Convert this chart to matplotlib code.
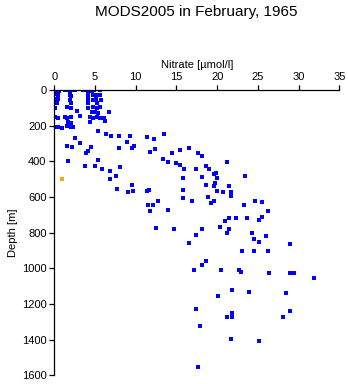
import matplotlib.pyplot as plt

# nitrate profiles, February 1965
nitrate = [
    0.1, 0.3, 0.6, 1.3, 1.6, 1.9, 2.2, 2.6, 3.5, 3.8, 4.2, 4.6, 4.9, 5.6,
    0.1, 0.4, 1.9, 2.1, 4.1, 4.8, 5.2, 5.6,
    0.2, 0.4, 1.9, 4.1, 4.8, 5.1, 5.7,
    0.1, 0.3, 2.0, 4.2, 5.2,
    0.1, 1.5, 2.1, 2.8, 4.1, 4.8, 5.3, 5.6, 6.7,
    3.2, 0.1, 0.4, 1.3, 1.6, 2.1, 4.4, 4.8, 5.2, 5.6, 6.1, 4.6, 5.0, 5.4,
    1.7, 2.1, 4.4, 6.2,
    0.1, 0.5, 0.9, 1.5, 2.0, 2.3, 5.4,
    6.3, 7.0, 8.0, 9.3, 11.4, 12.2, 13.5, 2.5, 3.2, 8.9,
    1.5, 2.2, 3.2, 4.2, 3.9, 4.5, 7.9, 9.5, 9.8, 11.8, 12.4,
    1.7, 3.8, 5.0, 5.4, 5.8, 6.8, 8.1, 7.6, 6.8,
    7.7, 9.1, 9.6, 9.7, 11.4, 11.6, 11.5, 12.1, 11.8, 12.7, 12.5,
    14.5, 15.4, 16.6, 17.6, 18.1, 13.3, 14.0, 14.9, 15.4, 15.9, 17.4, 18.6,
    19.0, 21.2, 18.1, 19.6, 19.8, 20.0, 15.8,
    15.8, 18.6, 19.6, 19.7, 20.0, 20.7, 21.4, 21.7, 21.7, 23.4,
    15.8, 16.9, 18.9, 19.2, 19.6, 23.3, 24.7, 14.0,
    21.0, 21.5, 22.3, 23.7, 20.4, 14.7, 18.1, 21.5, 25.2,
    25.5, 26.3, 25.5, 24.3, 26.0, 24.5, 25.1, 29.0, 23.1, 24.5, 26.3,
    17.4, 21.2, 16.6, 18.6, 18.1, 17.1, 20.5, 22.7, 22.9, 21.8, 23.9, 20.1,
    17.4, 21.8, 21.2, 21.8,
    26.4, 28.9, 29.4, 31.9, 28.5, 29.0, 28.1, 21.7, 25.1, 17.9, 17.6,
]
depth = [
    0, 0, 5, 0, 0, 5, 0, 0, 0, 0, 5, 5, 0, 0,
    25, 30, 30, 35, 30, 30, 30, 30,
    50, 50, 55, 50, 55, 50, 55,
    70, 75, 75, 75, 75,
    100, 95, 100, 118, 100, 95, 100, 95, 122,
    146, 155, 160, 150, 160, 150, 155, 160, 150, 160, 160, 125, 125, 130,
    180, 185, 180, 176,
    210, 210, 212, 205, 210, 210, 232,
    246, 257, 261, 257, 266, 275, 247, 272, 297, 294,
    315, 322, 300, 344, 352, 322, 328, 328, 317, 350, 331,
    401, 427, 429, 393, 446, 457, 434, 483, 502,
    558, 575, 536, 570, 570, 564, 644, 644, 680, 622, 777,
    352, 337, 324, 356, 373, 390, 406, 410, 421, 446, 444, 429,
    442, 404, 487, 474, 466, 496, 492,
    562, 534, 537, 524, 570, 575, 541, 575, 597, 483,
    609, 625, 603, 635, 625, 648, 625, 676,
    736, 721, 721, 721, 771, 782, 782, 782, 730,
    631, 677, 713, 801, 820, 839, 855, 867, 906, 902, 906,
    812, 805, 861, 957, 980, 1013, 1008, 1008, 1019, 1125, 1135, 1157,
    1230, 1249, 1271, 1271,
    1028, 1026, 1026, 1054, 1142, 1240, 1271, 1395, 1408, 1322, 1553,
]

# single flagged sample
flag_nitrate = [1.0]
flag_depth = [502]

plt.rcParams['font.family'] = ['Liberation Sans', 'DejaVu Sans']

fig = plt.figure(figsize=(3.48, 3.84), dpi=100)
ax = fig.add_axes([0.156, 0.023, 0.819, 0.743])

ax.plot(nitrate, depth, 's', color='#0000ff', markersize=2.2, markeredgewidth=0)
ax.plot(flag_nitrate, flag_depth, 's', color='#ffa500', markersize=2.2, markeredgewidth=0)

ax.set_xlim(0, 35)
ax.set_ylim(1600, 0)
ax.set_xticks(range(0, 36, 5))
ax.set_yticks(range(0, 1601, 200))

ax.xaxis.tick_top()
ax.xaxis.set_label_position('top')
ax.set_xlabel('Nitrate [µmol/l]', fontsize=8, labelpad=3)
ax.set_ylabel('Depth [m]', fontsize=8, labelpad=3)

for side in ['right', 'bottom']:
    ax.spines[side].set_visible(False)
for side in ['left', 'top']:
    ax.spines[side].set_linewidth(0.9)
ax.tick_params(length=3.6, width=0.9, labelsize=8, pad=2)

fig.text(0.565, 0.968, 'MODS2005 in February, 1965', ha='center', va='center', fontsize=11)

plt.savefig('out.png', dpi=100)
